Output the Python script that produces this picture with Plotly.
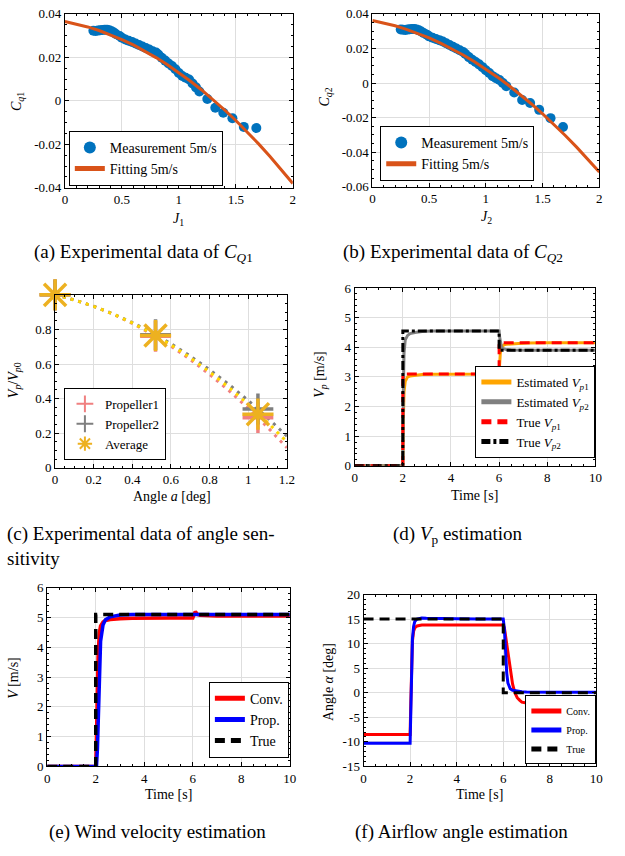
import plotly.graph_objects as go

W, H = 625, 856
FONT = "Liberation Serif, Times New Roman, serif"

# ---------------- (a) C_q1 data ----------------
j1_meas = [0.25, 0.27, 0.29, 0.31, 0.33, 0.35, 0.37, 0.39, 0.41, 0.43, 0.45, 0.48, 0.50, 0.53, 0.56,
           0.59, 0.62, 0.65, 0.68, 0.71, 0.74, 0.77, 0.80, 0.82, 0.85, 0.88, 0.91, 0.94, 0.97, 1.00,
           1.03, 1.06, 1.09, 1.12, 1.15, 1.18, 1.25, 1.32, 1.39, 1.47, 1.57, 1.68]
cq1_meas = [0.0322, 0.0321, 0.0323, 0.0325, 0.0326, 0.0327, 0.0327, 0.0325, 0.0320, 0.0314, 0.0306,
            0.0298, 0.0290, 0.0282, 0.0276, 0.0271, 0.0264, 0.0257, 0.0250, 0.0243, 0.0236, 0.0228,
            0.0222, 0.0213, 0.0198, 0.0185, 0.0172, 0.0160, 0.0145, 0.0128, 0.0114, 0.0106, 0.0098,
            0.0080, 0.0062, 0.0043, 0.0008, -0.0032, -0.0055, -0.0080, -0.0120, -0.0125]
j_fit = [0.0, 0.1, 0.2, 0.3, 0.4, 0.5, 0.6, 0.7, 0.8, 0.9, 1.0, 1.1, 1.2, 1.3, 1.4, 1.5, 1.6, 1.7,
         1.8, 1.9, 2.0]
cq1_fit = [0.0365, 0.03539, 0.0340, 0.03234, 0.0304, 0.02819, 0.0257, 0.02294, 0.0199, 0.01659,
           0.0130, 0.00914, 0.0050, 0.00059, -0.0041, -0.00906, -0.0143, -0.01981, -0.0256,
           -0.03166, -0.0380]

# ---------------- (b) C_q2 data ----------------
j2_meas = j1_meas
cq2_meas = [0.0310, 0.0308, 0.0307, 0.0309, 0.0311, 0.0312, 0.0312, 0.0310, 0.0305, 0.0298, 0.0290,
            0.0280, 0.0270, 0.0262, 0.0255, 0.0248, 0.0240, 0.0230, 0.0220, 0.0210, 0.0200, 0.0190,
            0.0180, 0.0168, 0.0150, 0.0135, 0.0122, 0.0108, 0.0092, 0.0074, 0.0058, 0.0040, 0.0028,
            0.0018, 0.0000, -0.0018, -0.0055, -0.0098, -0.0115, -0.0155, -0.0203, -0.0254]
cq2_fit = [0.0362, 0.03481, 0.0331, 0.03108, 0.02874, 0.02609, 0.02312, 0.01984, 0.01624, 0.01233,
           0.0081, 0.00356, -0.0013, -0.00647, -0.01196, -0.01776, -0.02388, -0.03031, -0.03706,
           -0.04412, -0.0515]

# ---------------- (c) angle sensitivity ----------------
angle_pts = [0.0, 0.52, 1.05]
prop1_pts = [1.0, 0.76, 0.29]
prop2_pts = [1.0, 0.77, 0.34]
avg_pts = [1.0, 0.765, 0.31]
angle_fit = [0.0, 0.1, 0.2, 0.3, 0.4, 0.5, 0.6, 0.7, 0.8, 0.9, 1.0, 1.1, 1.2]
prop1_fit = [1.0, 0.9709, 0.9336, 0.8883, 0.8348, 0.7733, 0.7036, 0.6259, 0.5400, 0.4461, 0.344,
             0.2339, 0.1156]
prop2_fit = [1.0, 0.9705, 0.9340, 0.8905, 0.8399, 0.7823, 0.7177, 0.6461, 0.5674, 0.4817, 0.3889,
             0.2891, 0.1823]
avg_fit = [1.0, 0.9707, 0.9339, 0.8895, 0.8375, 0.778, 0.7109, 0.6363, 0.5541, 0.4643, 0.367,
           0.2621, 0.1497]

# ---------------- (d) Vp estimation ----------------
t_true_d = [0, 2, 2, 6, 6, 10]
vp1_true = [0, 0, 3.1, 3.1, 4.15, 4.15]
vp2_true = [0, 0, 4.55, 4.55, 3.9, 3.9]
t_est_d = [0, 2.0, 2.02, 2.05, 2.1, 2.15, 2.2, 2.3, 2.5, 2.8, 3.2, 4, 5, 6.0, 6.02, 6.05, 6.1,
           6.15, 6.2, 6.3, 6.5, 6.8, 7.2, 8, 10]
vp1_est = [0, 0, 1.5, 2.5, 2.85, 2.95, 3.0, 3.03, 3.06, 3.08, 3.09, 3.1, 3.1, 3.1, 3.4, 3.8, 4.0,
           4.05, 4.08, 4.1, 4.12, 4.13, 4.14, 4.15, 4.15]
vp2_est = [0, 0, 2.5, 3.8, 4.25, 4.35, 4.4, 4.46, 4.5, 4.53, 4.55, 4.55, 4.55, 4.55, 4.35, 4.15,
           4.0, 3.96, 3.94, 3.92, 3.91, 3.9, 3.9, 3.9, 3.9]

# ---------------- (e) wind velocity ----------------
t_e = [0, 2.0, 2.03, 2.07, 2.1, 2.15, 2.2, 2.3, 2.4, 2.6, 2.8, 3.0, 3.5, 4, 5, 6.0, 6.05, 6.1,
       6.15, 6.2, 6.3, 6.5, 7, 8, 10]
v_conv = [0, 0, 1.0, 2.8, 3.8, 4.5, 4.72, 4.85, 4.9, 4.93, 4.95, 4.96, 4.97, 4.98, 4.98, 4.98,
          5.12, 5.2, 5.15, 5.1, 5.07, 5.06, 5.05, 5.05, 5.05]
v_prop = [0, 0, 0, 0.6, 1.6, 3.2, 4.2, 4.75, 4.92, 5.02, 5.06, 5.08, 5.1, 5.1, 5.1, 5.1, 5.1, 5.1,
          5.1, 5.1, 5.1, 5.1, 5.1, 5.1, 5.1]
t_true_e = [0, 2, 2, 10]
v_true = [0, 0, 5.1, 5.1]

# ---------------- (f) airflow angle ----------------
t_f = [0, 2.0, 2.03, 2.06, 2.1, 2.15, 2.2, 2.3, 2.4, 2.5, 2.7, 3.0, 4.0, 5.0, 6.0, 6.05, 6.1, 6.15,
       6.2, 6.3, 6.4, 6.5, 6.6, 6.7, 6.8, 7.0, 7.5, 8.0, 9.0, 10.0]
a_conv = [-8.5, -8.5, -2.0, 5.0, 10.5, 12.5, 13.2, 13.6, 13.7, 13.8, 13.8, 13.8, 13.8, 13.8, 13.8,
          13.2, 11.5, 9.8, 8.0, 4.5, 1.8, 0.0, -1.0, -1.5, -1.9, -2.1, -2.3, -2.3, -2.3, -2.3]
a_prop = [-10.3, -10.3, -4.0, 4.0, 11.0, 13.5, 14.5, 15.0, 15.15, 15.2, 15.15, 15.1, 15.05, 15.0,
          15.0, 13.0, 8.0, 4.0, 2.0, 0.8, 0.5, 0.4, 0.3, 0.25, 0.2, 0.15, 0.1, 0.1, 0.1, 0.1]
t_true_f = [0, 6, 6, 10]
a_true = [15, 15, 0, 0]

# ---------------- tick labels ----------------
ya_vals = [-0.04, -0.02, 0, 0.02, 0.04]
ya_text = ["-0.04", "-0.02", "0", "0.02", "0.04"]
yb_vals = [-0.06, -0.04, -0.02, 0, 0.02, 0.04]
yb_text = ["-0.06", "-0.04", "-0.02", "0", "0.02", "0.04"]
xj_vals = [0, 0.5, 1, 1.5, 2]
xj_text = ["0", "0.5", "1", "1.5", "2"]
xc_vals = [0, 0.2, 0.4, 0.6, 0.8, 1.0, 1.2]
xc_text = ["0", "0.2", "0.4", "0.6", "0.8", "1", "1.2"]
yc_vals = [0, 0.2, 0.4, 0.6, 0.8]
yc_text = ["0", "0.2", "0.4", "0.6", "0.8"]
xt_vals = [0, 2, 4, 6, 8, 10]
xt_text = ["0", "2", "4", "6", "8", "10"]
yv_vals = [0, 1, 2, 3, 4, 5, 6]
yv_text = ["0", "1", "2", "3", "4", "5", "6"]
yf_vals = [-15, -10, -5, 0, 5, 10, 15, 20]
yf_text = ["-15", "-10", "-5", "0", "5", "10", "15", "20"]

# ---------------- layout helpers ----------------
def px_x(p):
    return p / W

def px_y(p):
    return 1 - p / H

def axis(dom, rng, vals, text, minor_dtick, anchor):
    return dict(domain=dom, range=rng, tickvals=vals, ticktext=text, anchor=anchor,
                showline=True, linecolor="black", linewidth=1, mirror="ticks",
                ticks="inside", ticklen=4, tickcolor="black", tickwidth=1,
                showgrid=True, gridcolor="#dedede", gridwidth=1, zeroline=False,
                tickfont=dict(family=FONT, size=13, color="black"),
                minor=dict(dtick=minor_dtick, ticks="inside", ticklen=2, tickcolor="black",
                           showgrid=False),
                fixedrange=True)

boxes = {  # left, top, right, bottom in px
    "a": (63, 7, 295, 184),
    "b": (376, 7, 607, 183),
    "c": (53, 293, 289, 469),
    "d": (358, 286, 603, 467),
    "e": (45, 591, 292, 773),
    "f": (367, 598, 604, 773),
}

def doms(k):
    l, t, r, b = boxes[k]
    return [px_x(l), px_x(r)], [px_y(b), px_y(t)]

fig = go.Figure()

def line(x, y, color, width, dash, name, xa, ya, leg, show=True):
    fig.add_trace(go.Scatter(x=x, y=y, mode="lines", name=name,
                             line=dict(color=color, width=width, dash=dash),
                             xaxis=xa, yaxis=ya, legend=leg, showlegend=show, cliponaxis=False))

# (a)
fig.add_trace(go.Scatter(x=j1_meas, y=cq1_meas, mode="markers", name="Measurement 5m/s",
                         marker=dict(color="#0072BD", size=10), xaxis="x", yaxis="y",
                         legend="legend", cliponaxis=False))
line(j_fit, cq1_fit, "#D95319", 3, "solid", "Fitting 5m/s", "x", "y", "legend")

# (b)
fig.add_trace(go.Scatter(x=j2_meas, y=cq2_meas, mode="markers", name="Measurement 5m/s",
                         marker=dict(color="#0072BD", size=10), xaxis="x2", yaxis="y2",
                         legend="legend2", cliponaxis=False))
line(j_fit, cq2_fit, "#D95319", 3, "solid", "Fitting 5m/s", "x2", "y2", "legend2")

# (c)
line(angle_fit, prop1_fit, "#F08080", 3, "3px,5px", "fit1", "x3", "y3", "legend3", False)
line(angle_fit, prop2_fit, "#7f7f7f", 3, "3px,5px", "fit2", "x3", "y3", "legend3", False)
line(angle_fit, avg_fit, "#FFD700", 3, "3px,5px", "fitavg", "x3", "y3", "legend3", False)
for yv, col, sym, nm, sz in [(prop1_pts, "#F08080", "cross-thin", "Propeller1", 22),
                             (prop2_pts, "#7f7f7f", "cross-thin", "Propeller2", 22),
                             (avg_pts, "#EDB120", "asterisk", "Average", 26)]:
    fig.add_trace(go.Scatter(x=angle_pts, y=yv, mode="markers", name=nm,
                             marker=dict(symbol=sym, size=sz, color=col,
                                         line=dict(color=col, width=3.5)),
                             xaxis="x3", yaxis="y3", legend="legend3", cliponaxis=False))

# (d)
line(t_est_d, vp1_est, "#FFA500", 3, "solid", "Estimated <i>V</i><sub><i>p</i>1</sub>", "x4", "y4", "legend4")
line(t_est_d, vp2_est, "#808080", 3, "solid", "Estimated <i>V</i><sub><i>p</i>2</sub>", "x4", "y4", "legend4")
line(t_true_d, vp1_true, "#FF0000", 3, "10px,6px", "True <i>V</i><sub><i>p</i>1</sub>", "x4", "y4", "legend4")
line(t_true_d, vp2_true, "#000000", 3, "9px,3px,3px,3px", "True <i>V</i><sub><i>p</i>2</sub>", "x4", "y4", "legend4")

# (e)
line(t_e, v_conv, "#FF0000", 3.5, "solid", "Conv.", "x5", "y5", "legend5")
line(t_e, v_prop, "#0000FF", 3.5, "solid", "Prop.", "x5", "y5", "legend5")
line(t_true_e, v_true, "#000000", 3.5, "10px,6px", "True", "x5", "y5", "legend5")

# (f)
line(t_f, a_conv, "#FF0000", 3, "solid", "Conv.", "x6", "y6", "legend6")
line(t_f, a_prop, "#0000FF", 3, "solid", "Prop.", "x6", "y6", "legend6")
line(t_true_f, a_true, "#000000", 3, "10px,6px", "True", "x6", "y6", "legend6")

layout = dict(width=W, height=H, margin=dict(l=0, r=0, t=0, b=0),
              paper_bgcolor="white", plot_bgcolor="white",
              font=dict(family=FONT, color="black", size=13))

specs = [("a", "", [0, 2], xj_vals, xj_text, 0.1, [-0.04, 0.04], ya_vals, ya_text, 0.005),
         ("b", "2", [0, 2], xj_vals, xj_text, 0.1, [-0.06, 0.04], yb_vals, yb_text, 0.005),
         ("c", "3", [0, 1.2], xc_vals, xc_text, 0.05, [0, 1.0], yc_vals, yc_text, 0.05),
         ("d", "4", [0, 10], xt_vals, xt_text, 0.5, [0, 6], yv_vals, yv_text, 0.2),
         ("e", "5", [0, 10], xt_vals, xt_text, 0.5, [0, 6], yv_vals, yv_text, 0.2),
         ("f", "6", [0, 10], xt_vals, xt_text, 0.5, [-15, 20], yf_vals, yf_text, 1)]
for k, s, xr, xv, xtx, xm, yr, yv, ytx, ym in specs:
    xd, yd = doms(k)
    layout["xaxis" + s] = axis(xd, xr, xv, xtx, xm, "y" + s)
    layout["yaxis" + s] = axis(yd, yr, yv, ytx, ym, "x" + s)

def legend(x, b, size, xanchor="left"):
    return dict(x=px_x(x), y=px_y(b), xanchor=xanchor, yanchor="bottom",
                bgcolor="white", bordercolor="black", borderwidth=1,
                font=dict(family=FONT, size=size, color="black"),
                tracegroupgap=0, itemwidth=30, itemsizing="constant")

layout["legend"] = legend(67, 182, 14)
layout["legend2"] = legend(384, 177, 14)
layout["legend3"] = legend(62, 461, 13)
layout["legend4"] = legend(603, 459, 13, "right")
layout["legend5"] = legend(291, 764, 14, "right")
layout["legend6"] = legend(604, 771, 10, "right")

ann = []
def text(x, y, s, size, angle=0, xanchor="center", align="center"):
    ann.append(dict(x=px_x(x), y=px_y(y), xref="paper", yref="paper", text=s, showarrow=False,
                    textangle=angle, xanchor=xanchor, yanchor="middle", align=align,
                    font=dict(family=FONT, size=size, color="black")))

# axis titles
text(15, 96, "<i>C</i><sub><i>q</i>1</sub>", 14, -90)
text(179, 216, "<i>J</i><sub>1</sub>", 14)
text(328, 92, "<i>C</i><sub><i>q</i>2</sub>", 14, -90)
text(492, 214, "<i>J</i><sub>2</sub>", 14)
text(12, 380, "<i>V</i><sub><i>p</i></sub>/<i>V</i><sub><i>p</i>0</sub>", 14, -90)
text(172, 498, "Angle <i>a</i> [deg]", 14)
text(323, 374, "<i>V</i><sub><i>p</i></sub> [m/s]", 14, -90)
text(480, 497, "Time [s]", 14)
text(10, 683, "<i>V</i> [m/s]", 14, -90)
text(168, 802, "Time [s]", 14)
text(332, 687, "Angle <i>α</i> [deg]", 14, -90)
text(485, 802, "Time [s]", 14)

# captions
text(143, 250, "(a) Experimental data of <i>C</i><sub><i>Q</i>1</sub>", 19)
text(458, 250, "(b) Experimental data of <i>C</i><sub><i>Q</i>2</sub>", 19)
text(2, 549, "(c) Experimental data of angle sen-<br>sitivity", 19, xanchor="left", align="left")
text(463, 537, "(d) <i>V</i><sub>p</sub> estimation", 19)
text(157, 840, "(e) Wind velocity estimation", 19)
text(467, 840, "(f) Airflow angle estimation", 19)

layout["annotations"] = ann
fig.update_layout(**layout)
fig.write_html("out.html", config={"displayModeBar": False},
               post_script="document.body.style.margin='0';document.body.style.padding='0';")
